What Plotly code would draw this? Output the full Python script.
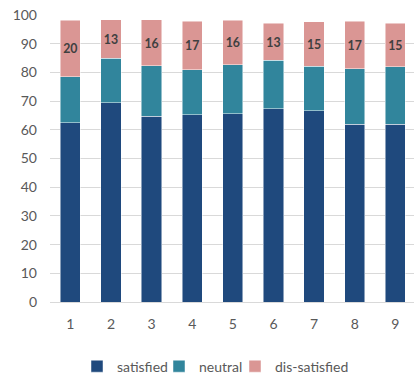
import plotly.graph_objects as go

categories = ["1", "2", "3", "4", "5", "6", "7", "8", "9"]
satisfied = [62.5, 69.4, 64.8, 65.3, 65.6, 67.4, 66.7, 62.0, 62.0]
neutral = [15.9, 15.5, 17.5, 15.6, 17.0, 16.8, 15.5, 19.2, 19.9]
dissatisfied = [19.8, 13.4, 16.1, 17.0, 15.6, 13.0, 15.4, 16.6, 15.3]
y_ticks = [0, 10, 20, 30, 40, 50, 60, 70, 80, 90, 100]

x = list(range(1, len(categories) + 1))
FONT = "Lato"
W, H = 414, 376
line = dict(color="rgba(255,255,255,0.6)", width=0.8)

fig = go.Figure()
fig.add_trace(go.Bar(x=x, y=satisfied, name="satisfied", marker=dict(color="#1f497d", line=line),
                     width=0.5, legend="legend"))
fig.add_trace(go.Bar(x=x, y=neutral, name="neutral", marker=dict(color="#31859c", line=line),
                     width=0.5, legend="legend2"))
fig.add_trace(go.Bar(
    x=x, y=dissatisfied, name="dis-satisfied", marker=dict(color="#da9694", line=line), width=0.5,
    text=[f"{round(v)}" for v in dissatisfied], textposition="inside", insidetextanchor="middle",
    textfont=dict(family=FONT, size=14, color="#404040", weight="bold"), textangle=0,
    legend="legend3",
))

def leg(left_px):
    return dict(orientation="h", x=left_px / W, xanchor="left", xref="container",
                y=0.025, yanchor="middle", yref="container", bgcolor="rgba(0,0,0,0)",
                font=dict(family=FONT, size=14, color="#595959"), itemwidth=30)

fig.update_layout(
    barmode="stack",
    width=W, height=H,
    margin=dict(l=50, r=0, t=15, b=74, autoexpand=False),
    plot_bgcolor="white", paper_bgcolor="white",
    font=dict(family=FONT, size=14, color="#595959"),
    showlegend=True,
    legend=leg(77), legend2=leg(159), legend3=leg(235),
)
fig.update_xaxes(
    tickmode="array", tickvals=x, ticktext=categories, range=[0.5, 9.46],
    showgrid=False, showline=False, zeroline=False, ticks="", ticklabelstandoff=12,
)
fig.update_yaxes(
    range=[0, 100], tickvals=y_ticks, showgrid=True, gridcolor="#d9d9d9", gridwidth=1,
    zeroline=True, zerolinecolor="#d9d9d9", zerolinewidth=1, showline=False, ticks="",
    ticklabelstandoff=12,
)
fig.write_html("out.html")
